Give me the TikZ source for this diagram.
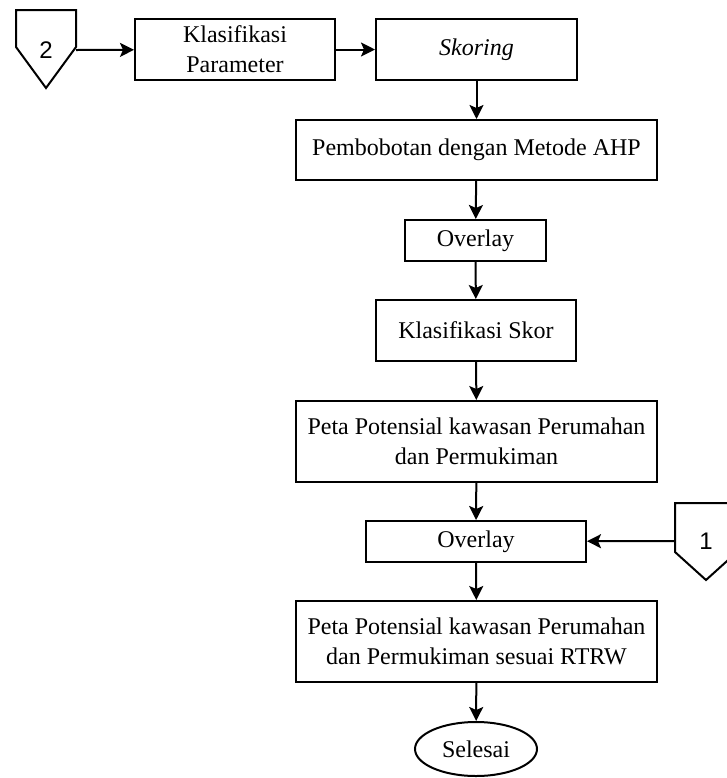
\documentclass[tikz,border=0pt]{standalone}
\usepackage{fontspec}
\setmainfont{Liberation Serif}
\newfontfamily\angkafont{Liberation Sans}
\usetikzlibrary{arrows.meta, shapes.geometric, positioning}

\tikzset{
    proses/.style={draw, line width=1pt, align=center, inner sep=0pt,
        font=\fontsize{12}{15}\selectfont},
    panah/.style={-{Stealth[length=7pt, width=7pt, inset=1.5pt]}, line width=1pt},
    penghubung/.style={draw, line width=1pt, fill=white},
}

\begin{document}
\begin{tikzpicture}[x=0.5pt, y=-0.5pt]
    \useasboundingbox (0,0) rectangle (727,778);
    % off-page connectors
    \draw[penghubung] (16,10) -- (76,10) -- (76,47) -- (46,88) -- (16,47) -- cycle;
    \node[font=\angkafont\fontsize{12}{14}\selectfont] (k2) at (46,50) {2};
    \coordinate (c2) at (76,50);
    \draw[penghubung] (675,503) -- (737,503) -- (737,552) -- (706,580) -- (675,552) -- cycle;
    \node[font=\angkafont\fontsize{12}{14}\selectfont] (k1) at (706,541) {1};
    \coordinate (c1) at (675,541);
    % process boxes
    \node[proses, minimum width=100pt, minimum height=30.5pt] (kp) at (235,49.5) {Klasifikasi\\Parameter};
    \node[proses, minimum width=100.5pt, minimum height=30.5pt] (skor) at (476.5,49.5) {\textit{Skoring}};
    \node[proses, minimum width=180.5pt, minimum height=30pt] (ahp) at (476.5,150) {Pembobotan dengan Metode AHP};
    \node[proses, minimum width=70.5pt, minimum height=20.5pt] (ov1) at (475.5,240.5) {Overlay};
    \node[proses, minimum width=100pt, minimum height=30.5pt] (ks) at (476,330.5) {Klasifikasi Skor};
    \node[proses, minimum width=180.5pt, minimum height=40.5pt] (peta1) at (476.5,441.5) {Peta Potensial kawasan Perumahan\\dan Permukiman};
    \node[proses, minimum width=110pt, minimum height=20.5pt] (ov2) at (476,541.5) {Overlay};
    \node[proses, minimum width=180.5pt, minimum height=40.5pt] (peta2) at (476.5,641.5) {Peta Potensial kawasan Perumahan\\dan Permukiman sesuai RTRW};
    \node[proses, ellipse, minimum width=61pt, minimum height=27pt] (sel) at (476,749) {Selesai};
    % arrows
    \draw[panah] (c2) -- (kp);
    \draw[panah] (kp) -- (skor);
    \draw[panah] (skor) -- (ahp);
    \draw[panah] (ahp) -- (ov1);
    \draw[panah] (ov1) -- (ks);
    \draw[panah] (ks) -- (peta1);
    \draw[panah] (peta1) -- (ov2);
    \draw[panah] (c1) -- (ov2);
    \draw[panah] (ov2) -- (peta2);
    \draw[panah] (peta2) -- (sel);
\end{tikzpicture}
\end{document}
